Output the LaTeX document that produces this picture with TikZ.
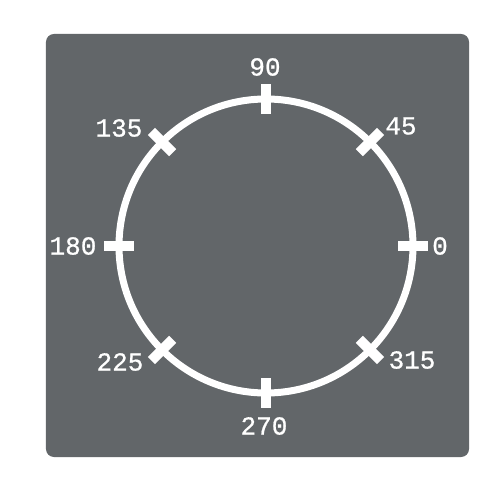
\documentclass[tikz,border=0pt]{standalone}
\usepackage{fontspec}
\setmonofont[FakeBold=0.8]{Liberation Mono}
\definecolor{panel}{HTML}{626669}
\begin{document}
\begin{tikzpicture}[x=1pt,y=1pt,
  tick/.style={white,line width=10pt},
  lbl/.style={text=white,font=\ttfamily\fontsize{26}{26}\selectfont,inner sep=0pt,anchor=center}]
\useasboundingbox (-266,-254) rectangle (234,246);
\fill[white] (-266,-254) rectangle (234,246);
\fill[panel,rounded corners=8pt] (-220,-211) rectangle (203,212);
\coordinate (c) at (0,0);
\draw[white,line width=7pt] (c) circle[radius=147];
\foreach \a in {0,45,...,315}{
  \draw[tick] (\a:132) -- (\a:162);
}
\node[lbl] (l0)   at (174,0)     {0};
\node[lbl] (l45)  at (135,120)   {45};
\node[lbl] (l90)  at (-1,179)    {90};
\node[lbl] (l135) at (-147,118)  {135};
\node[lbl] (l180) at (-193,0)    {180};
\node[lbl] (l225) at (-146,-116) {225};
\node[lbl] (l270) at (-2,-180)   {270};
\node[lbl] (l315) at (146,-114)  {315};
\end{tikzpicture}
\end{document}
